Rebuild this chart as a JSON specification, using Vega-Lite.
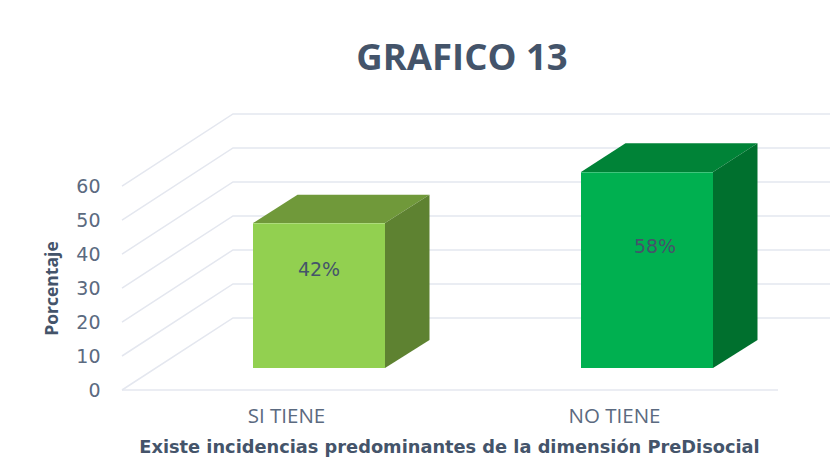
{
"$schema":"https://vega.github.io/schema/vega-lite/v6.json",
"width":708,"height":290,
"autosize":{"type":"none"},
"padding":{"left":122,"top":100,"right":1,"bottom":67},
"background":"white",
"config":{"view":{"stroke":null}},
"title":{"text":"GRAFICO 13","font":"Open Sans","fontSize":36.5,"fontWeight":"bold","color":"#44546a","anchor":"middle","frame":"group","dx":-14,"offset":23},
"datasets":{
"barras":[
{"categoria":"SI TIENE","porcentaje":42,"altura":42.6,"inicio":253,"fin":385,"centro":319,"nivelEtiqueta":35.3,"etiqueta":"42%","tono":"SI TIENE frontal"},
{"categoria":"NO TIENE","porcentaje":58,"altura":57.6,"inicio":581,"fin":713,"centro":655,"nivelEtiqueta":42,"etiqueta":"58%","tono":"NO TIENE frontal"}
],
"caras":[
{"tono":"SI TIENE superior","x":253,"y":49.1,"y2":49.1},
{"tono":"SI TIENE superior","x":297.5,"y":57.4,"y2":49.1},
{"tono":"SI TIENE superior","x":385,"y":57.4,"y2":49.1},
{"tono":"SI TIENE superior","x":429.5,"y":57.4,"y2":57.4},
{"tono":"SI TIENE lateral","x":385,"y":49.1,"y2":6.5},
{"tono":"SI TIENE lateral","x":429.5,"y":57.4,"y2":14.7},
{"tono":"NO TIENE superior","x":581,"y":64.1,"y2":64.1},
{"tono":"NO TIENE superior","x":625.5,"y":72.6,"y2":64.1},
{"tono":"NO TIENE superior","x":713,"y":72.6,"y2":64.1},
{"tono":"NO TIENE superior","x":757.5,"y":72.6,"y2":72.6},
{"tono":"NO TIENE lateral","x":713,"y":64.1,"y2":6.5},
{"tono":"NO TIENE lateral","x":757.5,"y":72.6,"y2":14.7}
],
"rejilla":[
{"linea":"piso","x":122,"y":0},{"linea":"piso","x":778,"y":0},
{"linea":"0","x":122,"y":0},{"linea":"0","x":233,"y":21.2},{"linea":"0","x":830,"y":21.2},
{"linea":"10","x":122,"y":10},{"linea":"10","x":233,"y":31.2},{"linea":"10","x":830,"y":31.2},
{"linea":"20","x":122,"y":20},{"linea":"20","x":233,"y":41.2},{"linea":"20","x":830,"y":41.2},
{"linea":"30","x":122,"y":30},{"linea":"30","x":233,"y":51.2},{"linea":"30","x":830,"y":51.2},
{"linea":"40","x":122,"y":40},{"linea":"40","x":233,"y":61.2},{"linea":"40","x":830,"y":61.2},
{"linea":"50","x":122,"y":50},{"linea":"50","x":233,"y":71.2},{"linea":"50","x":830,"y":71.2},
{"linea":"60","x":122,"y":60},{"linea":"60","x":233,"y":81.2},{"linea":"60","x":830,"y":81.2}
]
},
"layer":[
{"data":{"name":"rejilla"},
 "mark":{"type":"line","color":"#e4e7ef","strokeWidth":1.5,"clip":false},
 "encoding":{
  "x":{"field":"x","type":"quantitative","scale":{"domain":[122,830],"nice":false,"zero":false},
   "axis":{"values":[286,614],"labelExpr":"datum.value<400?'SI TIENE':'NO TIENE'","grid":false,"domain":false,"ticks":false,"labelFont":"Open Sans","labelFontSize":20.5,"labelColor":"#5b6a80","labelPadding":16,
    "title":"Existe incidencias predominantes de la dimensión PreDisocial","titleFont":"DejaVu Sans","titleFontSize":17.8,"titleFontWeight":"bold","titleColor":"#44546a","titleX":327,"titleY":48}},
  "y":{"field":"y","type":"quantitative","scale":{"domain":[0,85.3],"nice":false,"zero":false},
   "axis":{"values":[0,10,20,30,40,50,60],"grid":false,"domain":false,"ticks":false,"labelFont":"DejaVu Sans","labelFontSize":19,"labelColor":"#5b6a80","labelPadding":22,
    "title":"Porcentaje","titleFont":"Open Sans","titleFontSize":17.5,"titleFontWeight":"bold","titleColor":"#44546a","titleX":-61,"titleY":188}},
  "detail":{"field":"linea"}
 }},
{"data":{"name":"caras"},
 "mark":{"type":"area","opacity":1},
 "encoding":{
  "x":{"field":"x","type":"quantitative"},
  "y":{"field":"y","type":"quantitative","stack":null},
  "y2":{"field":"y2"},
  "color":{"field":"tono","type":"nominal","legend":null,
   "scale":{"domain":["SI TIENE frontal","SI TIENE superior","SI TIENE lateral","NO TIENE frontal","NO TIENE superior","NO TIENE lateral"],
            "range":["#92d050","#70993a","#5e8231","#00b050","#008337","#00702e"]}}
 }},
{"data":{"name":"barras"},
 "mark":{"type":"rect","yOffset":-22,"y2Offset":-22},
 "encoding":{
  "x":{"field":"inicio","type":"quantitative"},
  "x2":{"field":"fin"},
  "y":{"field":"altura","type":"quantitative"},
  "y2":{"datum":0},
  "color":{"field":"tono","type":"nominal","legend":null}
 }},
{"data":{"name":"barras"},
 "mark":{"type":"text","font":"DejaVu Sans","fontSize":19,"color":"#44546a"},
 "encoding":{
  "x":{"field":"centro","type":"quantitative"},
  "y":{"field":"nivelEtiqueta","type":"quantitative"},
  "text":{"field":"etiqueta"}
 }}
]
}
